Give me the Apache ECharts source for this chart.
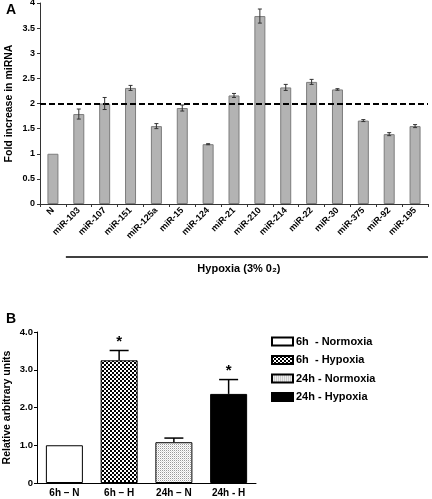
<!DOCTYPE html>
<html><head><meta charset="utf-8">
<script src="https://cdn.jsdelivr.net/npm/echarts@6/dist/echarts.min.js"></script>
<style>html,body{margin:0;padding:0;background:#fff}#c{width:432px;height:499px}</style>
</head><body><div id="c"></div>
<script>
// Panel A data
const catsA = ['N','miR-103','miR-107','miR-151','miR-125a','miR-15','miR-124','miR-21','miR-210','miR-214','miR-22','miR-30','miR-375','miR-92','miR-195'];
const valsA = [1.0,1.79,2.0,2.31,1.55,1.91,1.19,2.16,3.74,2.32,2.43,2.28,1.66,1.39,1.55];
const errA  = [0,0.10,0.12,0.05,0.05,0.06,0.01,0.04,0.14,0.06,0.05,0.015,0.02,0.03,0.03];
const thresholdA = 2;
const groupLabelA = 'Hypoxia (3% 0\u2082)';
// Panel B data
const catsB = ['6h \u2013 N','6h \u2013 H','24h \u2013 N','24h - H'];
const valsB = [1.0,3.25,1.08,2.36];
const errB  = [0,0.26,0.11,0.38];
const starsB = ['','*','','*'];
const legendB = ['6h  - Normoxia','6h  - Hypoxia','24h - Normoxia','24h - Hypoxia'];

function pat(size, fn){
  const c=document.createElement('canvas'); c.width=size; c.height=size;
  const g=c.getContext('2d'); g.fillStyle='#fff'; g.fillRect(0,0,size,size); fn(g); return {image:c, repeat:'repeat'};
}
const checker = pat(4, g=>{g.fillStyle='#000'; g.fillRect(0,0,2,2); g.fillRect(2,2,2,2);});
const dots = pat(2, g=>{g.fillStyle='#9a9a9a'; g.fillRect(0,0,1,1); g.fillStyle='#dcdcdc'; g.fillRect(1,1,1,1);});
const fillsB = ['#ffffff', checker, dots, '#000000'];

const FONT = 'Liberation Sans, Arial, sans-serif';
const chart = echarts.init(document.getElementById('c'), null, {renderer:'canvas'});

const barsB = legendB.map((name,i)=>({
  name, type:'bar', xAxisIndex:1, yAxisIndex:1, stack:'b', barWidth:37,
  itemStyle:{color:fillsB[i], borderColor:'#000', borderWidth:1},
  data: valsB.map((v,j)=> j===i ? v : '-'),
  z:2
}));

const option = {
  animation:false,
  textStyle:{fontFamily:FONT},
  title:[
    {text:'A', left:1, top:-2, textStyle:{fontSize:14, fontWeight:'bold', color:'#000', fontFamily:FONT}},
    {text:'B', left:1, top:307, textStyle:{fontSize:14, fontWeight:'bold', color:'#000', fontFamily:FONT}}
  ],
  legend:{
    data:legendB, orient:'vertical', left:271, top:336, padding:0, itemWidth:21, itemHeight:8, itemGap:7.5,
    icon:'rect', selectedMode:false,
    textStyle:{fontSize:11, fontWeight:'bold', color:'#000', fontFamily:FONT, padding:[0,0,0,-2]}
  },
  grid:[
    {left:40, top:3, width:388, height:201, containLabel:false, outerBoundsMode:'none'},
    {left:37, top:332, width:219, height:151, containLabel:false, outerBoundsMode:'none'}
  ],
  xAxis:[
    {type:'category', gridIndex:0, data:catsA,
      axisLine:{lineStyle:{color:'#333', width:1}},
      axisTick:{show:true, length:3, lineStyle:{color:'#333'}},
      axisLabel:{rotate:45, fontSize:9, fontWeight:'bold', color:'#000', margin:5, interval:0, fontFamily:FONT}},
    {type:'category', gridIndex:1, data:catsB,
      axisLine:{lineStyle:{color:'#000', width:1}},
      axisTick:{show:false},
      axisLabel:{fontSize:10, fontWeight:'bold', color:'#000', margin:5, interval:0, fontFamily:FONT}}
  ],
  yAxis:[
    {type:'value', gridIndex:0, min:0, max:4, interval:0.5,
      name:'Fold increase in miRNA', nameLocation:'middle', nameGap:25, nameRotate:90, nameMoveOverlap:false,
      nameTextStyle:{fontSize:10.5, fontWeight:'bold', color:'#000', fontFamily:FONT},
      axisLine:{show:true, lineStyle:{color:'#333'}},
      axisTick:{show:true, length:3, lineStyle:{color:'#333'}},
      splitLine:{show:false},
      axisLabel:{fontSize:9, fontWeight:'bold', color:'#000', margin:5, fontFamily:FONT}},
    {type:'value', gridIndex:1, min:0, max:4, interval:1,
      name:'Relative arbitrary units', nameLocation:'middle', nameGap:24, nameRotate:90, nameMoveOverlap:false,
      nameTextStyle:{fontSize:10.5, fontWeight:'bold', color:'#000', fontFamily:FONT},
      axisLine:{show:true, lineStyle:{color:'#000'}},
      axisTick:{show:true, length:3, lineStyle:{color:'#000'}},
      splitLine:{show:false},
      axisLabel:{fontSize:9.5, fontWeight:'bold', color:'#000', margin:4, fontFamily:FONT,
        formatter:v=> v===0 ? '0' : v.toFixed(1)}}
  ],
  series:[
    {type:'bar', xAxisIndex:0, yAxisIndex:0, data:valsA, barWidth:11,
      itemStyle:{color:'#b3b3b3', borderColor:'#7d7d7d', borderWidth:1},
      markLine:{silent:true, symbol:'none', label:{show:false},
        lineStyle:{color:'#000', type:[6,3], width:2},
        data:[{yAxis:thresholdA}]}},
    {type:'custom', xAxisIndex:0, yAxisIndex:0, z:5,
      data: valsA.map((v,i)=>[i,v,errA[i]]),
      renderItem:(params,api)=>{
        const e=api.value(2); if(!e) return null;
        const x=api.value(0), v=api.value(1);
        const hi=api.coord([x,v+e]), lo=api.coord([x,v-e]);
        const w=2, st={stroke:'#333', lineWidth:1};
        return {type:'group', children:[
          {type:'line', shape:{x1:hi[0],y1:hi[1],x2:lo[0],y2:lo[1]}, style:st},
          {type:'line', shape:{x1:hi[0]-w,y1:hi[1],x2:hi[0]+w,y2:hi[1]}, style:st},
          {type:'line', shape:{x1:lo[0]-w,y1:lo[1],x2:lo[0]+w,y2:lo[1]}, style:st}
        ]};
      }},
    ...barsB,
    {type:'custom', xAxisIndex:1, yAxisIndex:1, z:6,
      data: valsB.map((v,i)=>[i,v,errB[i]]),
      renderItem:(params,api)=>{
        const i=api.value(0), v=api.value(1), e=api.value(2);
        const kids=[];
        const top=api.coord([i,v+e]), base=api.coord([i,v]);
        if(e){
          const st={stroke:'#000', lineWidth:1.5};
          kids.push({type:'line', shape:{x1:base[0],y1:base[1],x2:top[0],y2:top[1]}, style:st});
          kids.push({type:'line', shape:{x1:top[0]-9.5,y1:top[1],x2:top[0]+9.5,y2:top[1]}, style:st});
        }
        if(starsB[i]){
          kids.push({type:'text', style:{text:starsB[i], x:top[0], y:top[1]-1, align:'center', verticalAlign:'bottom',
            fontSize:15, fontWeight:'bold', fill:'#000', fontFamily:FONT}});
        }
        return {type:'group', children:kids};
      }}
  ]
};
chart.setOption(option);

// Hypoxia bracket under miR categories
const c1 = chart.convertToPixel({xAxisIndex:0}, catsA[1]);
const c2 = chart.convertToPixel({xAxisIndex:0}, catsA[2]);
const band = c2 - c1;
const xs = c1 - band/2;
const xe = chart.convertToPixel({xAxisIndex:0}, catsA[catsA.length-1]) + band/2;
chart.setOption({graphic:[
  {type:'line', shape:{x1:xs, y1:257, x2:xe, y2:257}, style:{stroke:'#000', lineWidth:1.5}},
  {type:'text', x:(xs+xe)/2-8, y:269, style:{text:groupLabelA, align:'center', verticalAlign:'middle',
    fontSize:11, fontWeight:'bold', fill:'#000', fontFamily:FONT}}
]});
</script></body></html>
